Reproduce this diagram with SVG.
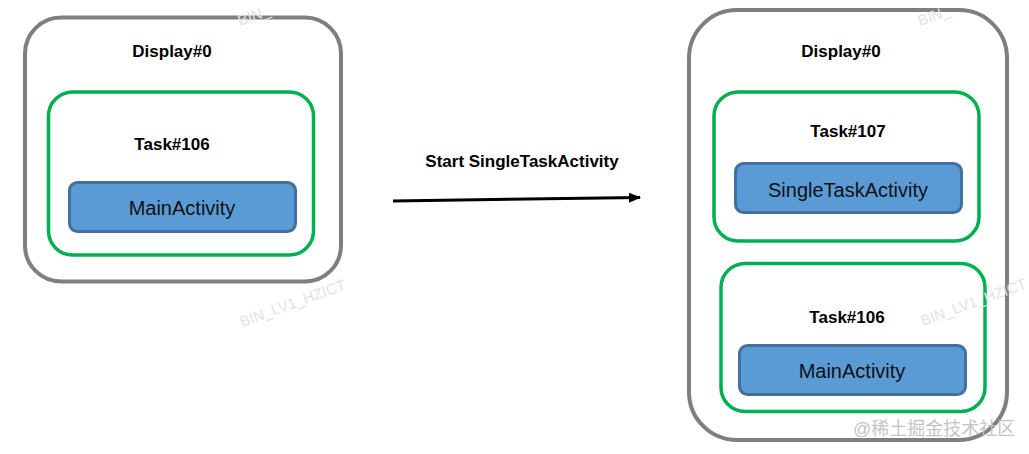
<svg xmlns="http://www.w3.org/2000/svg" width="1029" height="454" viewBox="0 0 1029 454">
<style>
.display{fill:#fff;stroke:#7f7f7f;stroke-width:4}
.task{fill:#fff;stroke:#00b050;stroke-width:3.5}
.act{fill:#5b9bd5;stroke:#41719c;stroke-width:3}
.lbl{font-family:"Liberation Sans",Arial,sans-serif;font-weight:bold;font-size:17px;fill:#000;text-anchor:middle}
.actlbl{font-family:"Liberation Sans",Arial,sans-serif;font-size:20px;fill:#111;text-anchor:middle}
.wm{font-family:"Liberation Sans",Arial,sans-serif;font-size:15px;fill:#e2e2e2}
.wm2{font-family:"Liberation Sans","Noto Sans CJK SC",sans-serif;font-size:18px;fill:#c4c4c4}
</style>
<defs>
<marker id="ah" markerWidth="12" markerHeight="10" refX="11" refY="5" orient="auto" markerUnits="userSpaceOnUse">
<path d="M0,0 L12,5 L0,10 Z" fill="#000"/>
</marker>
</defs>
<g id="display-left">
<rect class="display" x="25" y="17.5" width="316" height="264" rx="36"/>
<text class="lbl" x="172" y="57">Display#0</text>
</g>
<g id="task106-left">
<rect class="task" x="48.5" y="92" width="265" height="163" rx="24"/>
<text class="lbl" x="172" y="150">Task#106</text>
</g>
<g id="main-left">
<rect class="act" x="69.5" y="182.5" width="226" height="49" rx="8"/>
<text class="actlbl" x="182" y="215">MainActivity</text>
</g>
<g id="connectors">
<line x1="393" y1="201" x2="640" y2="197.5" stroke="#000" stroke-width="3" marker-end="url(#ah)"/>
<text class="lbl" x="522" y="167">Start SingleTaskActivity</text>
</g>
<g id="display-right">
<rect class="display" x="689" y="10" width="318" height="430" rx="48"/>
<text class="lbl" x="841" y="57">Display#0</text>
</g>
<g id="task107">
<rect class="task" x="714" y="92" width="265" height="149" rx="24"/>
<text class="lbl" x="848" y="137">Task#107</text>
</g>
<g id="single">
<rect class="act" x="735.5" y="163.5" width="226" height="49" rx="8"/>
<text class="actlbl" x="848" y="197">SingleTaskActivity</text>
</g>
<g id="task106-right">
<rect class="task" x="721" y="263.5" width="264" height="148" rx="24"/>
<text class="lbl" x="847" y="323">Task#106</text>
</g>
<g id="main-right">
<rect class="act" x="739.5" y="345.5" width="226" height="49" rx="8"/>
<text class="actlbl" x="852" y="378">MainActivity</text>
</g>
<g id="watermarks">
<text class="wm" transform="translate(240,26) rotate(-20)">BIN_</text>
<text class="wm" transform="translate(920,26) rotate(-20)">BIN_</text>
<text class="wm" transform="translate(242,327) rotate(-20)">BIN_LV1_HZICT</text>
<text class="wm" transform="translate(923,326) rotate(-20)">BIN_LV1_HZICT</text>
<text class="wm2" x="853" y="435">@稀土掘金技术社区</text>
</g>
</svg>
